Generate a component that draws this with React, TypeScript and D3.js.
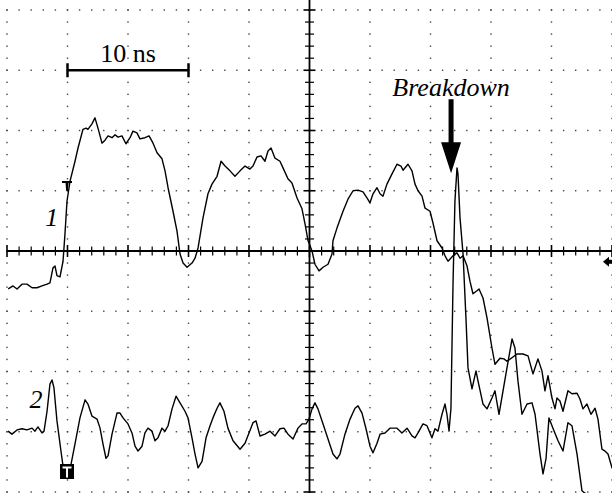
import React from 'react';
import * as d3 from 'd3';

const W = 612;
const H = 493;

// time in ns (5 ns per division), amplitude in divisions
const ch1: [number, number][] = [
  [0.1, -0.63], [0.5, -0.58], [0.83, -0.63], [1.24, -0.55], [1.65, -0.55], [2.07, -0.61], [2.48, -0.61],
  [2.89, -0.58], [3.31, -0.55], [3.55, -0.53], [3.8, -0.28], [3.97, -0.25], [4.13, -0.41], [4.38, -0.43],
  [4.63, -0.17], [4.79, 0.28], [4.96, 0.83], [5.21, 1.16], [5.62, 1.49], [5.87, 1.71], [6.28, 2.02],
  [6.53, 2.04], [6.69, 2.02], [7.02, 2.11], [7.27, 2.21], [7.52, 2.04], [7.85, 1.79], [8.1, 1.84],
  [8.35, 1.91], [8.68, 1.88], [8.93, 1.93], [9.17, 1.89], [9.5, 1.91], [9.83, 1.78], [10.17, 1.88],
  [10.41, 1.99], [10.74, 1.96], [10.99, 1.86], [11.4, 1.88], [11.74, 1.91], [12.07, 1.79], [12.4, 1.63],
  [12.81, 1.53], [13.06, 1.33], [13.31, 1.05], [13.72, 0.66], [14.05, 0.33], [14.3, -0.05], [14.55, -0.2],
  [14.88, -0.27], [15.29, -0.2], [15.54, -0.12], [15.79, 0.05], [16.2, 0.55], [16.61, 0.95], [16.94, 1.11],
  [17.36, 1.24], [17.69, 1.49], [18.02, 1.41], [18.43, 1.33], [18.84, 1.24], [19.26, 1.33], [19.67, 1.41],
  [20.08, 1.36], [20.33, 1.41], [20.66, 1.56], [20.99, 1.58], [21.32, 1.49], [21.57, 1.66], [21.82, 1.71],
  [22.15, 1.54], [22.56, 1.49], [22.81, 1.38], [23.22, 1.2], [23.55, 1.13], [23.97, 0.88], [24.38, 0.7],
  [24.63, 0.45], [24.88, 0.17], [25.21, 0], [25.45, -0.22], [25.79, -0.33], [26.12, -0.27], [26.53, -0.22],
  [26.86, -0.05], [26.94, 0.17], [27.27, 0.38], [27.77, 0.66], [28.18, 0.86], [28.6, 1.0], [29.01, 1.01],
  [29.42, 0.98], [29.75, 0.88], [30, 0.8], [30.25, 0.95], [30.58, 1.05], [30.83, 0.95], [31.07, 0.91],
  [31.4, 1.11], [31.82, 1.28], [32.23, 1.44], [32.56, 1.41], [32.73, 1.34], [33.14, 1.44], [33.47, 1.33],
  [33.72, 1.11], [33.97, 1.0], [34.3, 0.91], [34.55, 0.71], [34.96, 0.66], [35.21, 0.46], [35.54, 0.17],
  [35.95, 0.05], [36.2, -0.08], [36.45, -0.17], [36.86, -0.08], [37.19, -0.03], [37.44, -0.12], [37.69, -0.08],
  [38.02, -0.25], [38.26, -0.5], [38.51, -0.71], [38.84, -0.66], [39.01, -0.63], [39.34, -0.78], [39.67, -1.11],
  [40.08, -1.61], [40.33, -1.88], [40.74, -1.78], [41.07, -1.79], [41.32, -1.83], [42.15, -1.71], [42.64, -1.71],
  [43.06, -1.74], [43.47, -2.04], [43.88, -1.79], [44.21, -1.99], [44.46, -2.32], [44.71, -2.07], [45.04, -2.44],
  [45.29, -2.62], [45.45, -2.44], [45.7, -2.49], [45.95, -2.66], [46.36, -2.32], [46.69, -2.37], [47.11, -2.36],
  [47.36, -2.46], [47.6, -2.62], [47.93, -2.54], [48.26, -2.71], [48.6, -2.61], [48.84, -2.79], [49.17, -3.29],
  [49.42, -3.32], [49.67, -3.37], [50, -3.6],
];

const ch2: [number, number][] = [
  [0.08, -2.99], [0.41, -3.04], [0.83, -2.97], [1.24, -2.95], [1.65, -2.97], [2.07, -2.94], [2.31, -2.99],
  [2.56, -2.92], [2.89, -3.02], [3.06, -2.99], [3.31, -2.66], [3.55, -2.21], [3.72, -2.14], [3.88, -2.27],
  [4.13, -2.82], [4.46, -3.32], [4.63, -3.57], [4.96, -3.65], [5.29, -3.54], [5.62, -3.2], [6.03, -2.77],
  [6.45, -2.47], [6.69, -2.54], [7.02, -2.74], [7.44, -2.79], [7.69, -2.94], [7.93, -3.2], [8.18, -3.44],
  [8.35, -3.4], [8.68, -3.04], [9.09, -2.69], [9.34, -2.69], [9.59, -2.77], [10, -2.87], [10.33, -3.02],
  [10.58, -3.24], [10.83, -3.32], [11.16, -3.24], [11.4, -3.02], [11.65, -2.94], [11.98, -2.99], [12.23, -3.15],
  [12.48, -3.1], [12.81, -2.94], [13.06, -2.99], [13.31, -2.9], [13.64, -2.62], [13.97, -2.41], [14.3, -2.52],
  [14.71, -2.66], [14.96, -2.77], [15.29, -3.1], [15.54, -3.37], [15.79, -3.6], [16.12, -3.49], [16.45, -3.1],
  [16.78, -2.9], [17.02, -2.77], [17.36, -2.61], [17.6, -2.52], [17.93, -2.66], [18.26, -2.94], [18.68, -3.15],
  [19.26, -3.29], [19.67, -3.19], [20, -3.02], [20.33, -2.85], [20.58, -2.82], [20.91, -3.07], [21.32, -3.04],
  [21.74, -2.99], [22.15, -3.07], [22.56, -2.95], [22.89, -2.94], [23.22, -3.04], [23.64, -3.12], [24.05, -2.94],
  [24.38, -2.87], [24.71, -2.87], [24.96, -2.79], [25.21, -2.62], [25.45, -2.52], [25.7, -2.62], [26.12, -2.87],
  [26.53, -3.12], [26.94, -3.37], [27.27, -3.45], [27.52, -3.37], [27.93, -3.04], [28.35, -2.79], [28.76, -2.61],
  [29.01, -2.57], [29.34, -2.69], [29.67, -2.95], [30, -3.24], [30.25, -3.35], [30.58, -3.19], [30.83, -3.04],
  [31.24, -3.02], [31.65, -2.94], [32.23, -2.94], [32.64, -3.02], [33.06, -2.94], [33.47, -3.07], [33.72, -3.1],
  [33.97, -3.02], [34.38, -2.87], [34.71, -2.9], [35.12, -3.1], [35.37, -2.95], [35.62, -2.99], [35.95, -2.71],
  [36.2, -2.54], [36.36, -2.71], [36.53, -2.99], [36.69, -2.61], [36.86, -0.55], [37.02, 0.83], [37.19, 1.38],
  [37.27, 1.28], [37.44, 0.55], [37.69, -0.05], [37.93, -1.11], [38.1, -1.94], [38.43, -2.29], [38.76, -1.99],
  [38.93, -2.16], [39.34, -2.54], [39.67, -2.62], [40.08, -2.44], [40.33, -2.32], [40.66, -2.71], [41.32, -1.94],
  [41.74, -1.46], [41.98, -1.61], [42.23, -2.16], [42.56, -2.71], [42.98, -2.54], [43.39, -2.52], [43.64, -2.71],
  [44.05, -3.37], [44.3, -3.7], [44.55, -3.44], [44.79, -2.77], [45.12, -2.94], [45.54, -3.15], [45.95, -3.32],
  [46.36, -2.85], [46.69, -2.9], [47.11, -3.37], [47.52, -3.98], [47.77, -4.02], [48.5, -4.1],
];

const majorTimes = d3.range(0, 51, 5);
const minorTimes = d3.range(0, 51, 1);
const majorAmps = d3.range(-4, 5, 1);
const minorAmps = d3.range(-4, 4.01, 0.2).map((v) => +v.toFixed(1));

// annotations
const scaleBar = { from: 5, to: 15, amp: 3.0, label: '10 ns' };
const breakdown = { time: 36.7, tip: 1.29, label: 'Breakdown', labelAmp: 2.57 };
const channelLabels = [
  { text: '1', time: 3.7, amp: 0.41 },
  { text: '2', time: 2.4, amp: -2.6 },
];
const trigTime = 4.96;
const ch1Marker = 1.16;
const ch2Marker = -3.66;
const groundMarker = -0.18;

const serif = '"Liberation Serif", "Times New Roman", serif';

export default function App() {
  const x = d3.scaleLinear().domain([0, 50]).range([7, 612]);
  const y = d3.scaleLinear().domain([-4, 4]).range([492, 10]);
  const line = d3.line<[number, number]>().x((d) => x(d[0])).y((d) => y(d[1]));

  const x0 = x(25);
  const y0 = y(0);

  const dots: { cx: number; cy: number }[] = [];
  majorAmps.filter((v) => v !== 0).forEach((v) => {
    minorTimes.forEach((t) => dots.push({ cx: x(t), cy: y(v) }));
  });
  majorTimes.filter((t) => t !== 25).forEach((t) => {
    minorAmps.forEach((v) => dots.push({ cx: x(t), cy: y(v) }));
  });

  const ax = x(breakdown.time);
  const ay = y(breakdown.tip);
  const arrow = `M${ax},${ay} L${ax - 10},${ay - 31} L${ax - 2.5},${ay - 31} L${ax - 2.5},${ay - 74} L${ax + 2.5},${ay - 74} L${ax + 2.5},${ay - 31} L${ax + 10},${ay - 31} Z`;

  const tx = x(trigTime);
  const m1y = y(ch1Marker);
  const m2y = y(ch2Marker);
  const gy = y(groundMarker);

  return (
    <svg width={W} height={H} style={{ position: 'absolute', left: 0, top: 0, background: '#fff' }}>
      <defs>
        <clipPath id="screen">
          <rect x={0} y={0} width={W} height={H} />
        </clipPath>
      </defs>
      <rect width={W} height={H} fill="#fff" />
      <g fill="#444">
        {dots.map((d, i) => (
          <rect key={i} x={d.cx - 0.7} y={d.cy - 0.7} width={1.4} height={1.4} />
        ))}
      </g>
      {/* center axes with ticks */}
      <g stroke="#000">
        <line x1={x(0)} x2={x(50)} y1={y0} y2={y0} strokeWidth={1.8} />
        <line x1={x0} x2={x0} y1={0} y2={H} strokeWidth={1.8} />
        {minorTimes.map((t) => (
          <line key={'tx' + t} x1={x(t)} x2={x(t)} y1={y0 - (t % 5 === 0 ? 6 : 4.5)} y2={y0 + (t % 5 === 0 ? 6 : 4.5)} strokeWidth={t % 5 === 0 ? 1.6 : 1.2} />
        ))}
        {minorAmps.map((v) => {
          const major = Math.abs(v - Math.round(v)) < 1e-6;
          return (
            <line key={'ty' + v} x1={x0 - (major ? 6 : 4.5)} x2={x0 + (major ? 6 : 4.5)} y1={y(v)} y2={y(v)} strokeWidth={major ? 1.6 : 1.2} />
          );
        })}
      </g>
      {/* traces */}
      <g clipPath="url(#screen)" fill="none" stroke="#000" strokeWidth={1.4} strokeLinejoin="round">
        <path d={line(ch1) ?? ''} />
        <path d={line(ch2) ?? ''} />
      </g>
      {/* scale bar */}
      <g stroke="#000" strokeWidth={2.5}>
        <line x1={x(scaleBar.from)} x2={x(scaleBar.to)} y1={y(scaleBar.amp)} y2={y(scaleBar.amp)} />
        <line x1={x(scaleBar.from)} x2={x(scaleBar.from)} y1={y(scaleBar.amp) - 7} y2={y(scaleBar.amp) + 7} />
        <line x1={x(scaleBar.to)} x2={x(scaleBar.to)} y1={y(scaleBar.amp) - 7} y2={y(scaleBar.amp) + 7} />
      </g>
      <text x={(x(scaleBar.from) + x(scaleBar.to)) / 2} y={y(scaleBar.amp) - 8} textAnchor="middle" fontFamily={serif} fontSize={26}>
        {scaleBar.label}
      </text>
      {/* breakdown annotation */}
      <text x={ax} y={y(breakdown.labelAmp)} textAnchor="middle" fontFamily={serif} fontStyle="italic" fontSize={26}>
        {breakdown.label}
      </text>
      <path d={arrow} fill="#000" />
      {channelLabels.map((c) => (
        <text key={c.text} x={x(c.time)} y={y(c.amp)} textAnchor="middle" fontFamily={serif} fontStyle="italic" fontSize={26}>
          {c.text}
        </text>
      ))}
      {/* ch1 trigger level marker */}
      <path d={`M${tx - 5},${m1y} H${tx + 5} V${m1y + 2} H${tx + 1.5} L${tx + 0.8},${m1y + 10} H${tx - 0.8} L${tx - 1.5},${m1y + 2} H${tx - 5} Z`} fill="#000" />
      {/* ch2 trigger marker */}
      <rect x={tx - 7} y={m2y - 7.5} width={14} height={15} fill="#000" />
      <path d={`M${tx - 4.5},${m2y - 5} H${tx + 4.5} V${m2y - 3} H${tx + 1} V${m2y + 6} H${tx - 1} V${m2y - 3} H${tx - 4.5} Z`} fill="#fff" />
      {/* ground reference marker */}
      <path d={`M${W - 9},${gy} L${W - 3},${gy - 5} V${gy - 2} H${W} V${gy + 2} H${W - 3} V${gy + 5} Z`} fill="#000" />
    </svg>
  );
}
